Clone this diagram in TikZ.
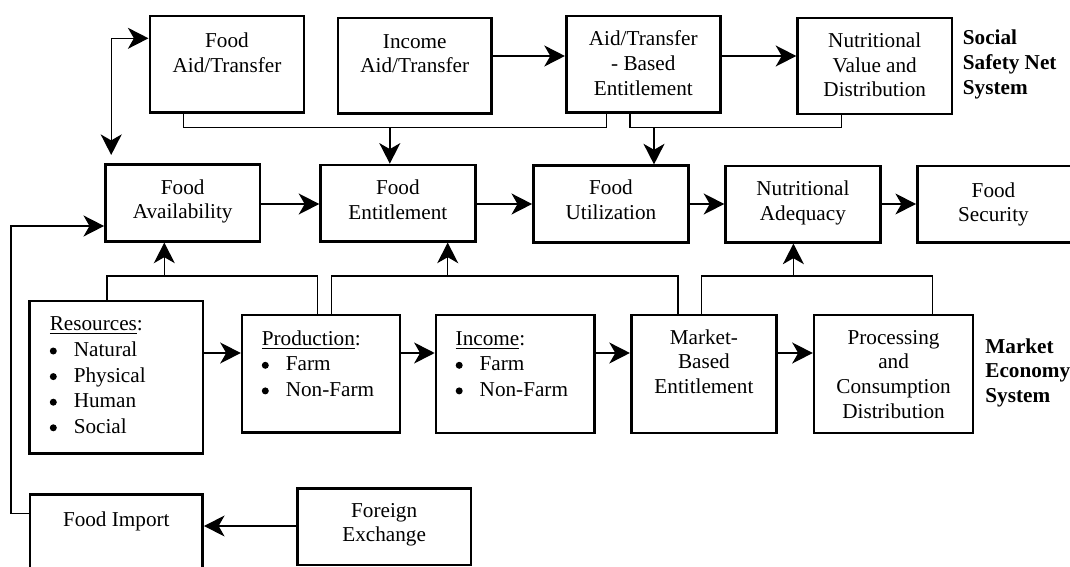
\documentclass[tikz,border=0pt]{standalone}
\usepackage{fontspec}
\setmainfont{Liberation Serif}
\usetikzlibrary{arrows.meta,calc,fit}
\newcommand{\myst}{\rule{0pt}{8pt}}
\newcommand{\itm}[1]{\makebox[12pt][l]{\tikz[baseline=0pt]\fill (1.9pt,2.7pt) circle[radius=1.75pt];}#1}
\begin{document}
\begin{tikzpicture}[x=0.5pt,y=-0.5pt,
  box/.style={draw, line width=1.3pt, inner sep=0pt},
  txt/.style={anchor=north, inner sep=0pt, align=center, font=\fontsize{10.6}{12.4}\selectfont},
  ltxt/.style={anchor=north west, inner sep=0pt, align=left, font=\fontsize{10.6}{12.8}\selectfont},
  lab/.style={anchor=north west, inner sep=0pt, align=left, font=\fontsize{10.6}{12.4}\selectfont\bfseries},
  plain/.style={line width=0.7pt},
  conn/.style={line width=0.7pt, -{Stealth[length=10.3pt,width=10.5pt,inset=3pt]}},
  dbl/.style={line width=0.7pt, {Stealth[length=10.3pt,width=10.5pt,inset=3pt]}-{Stealth[length=10.3pt,width=10.5pt,inset=3pt]}}]
\useasboundingbox (0,0) rectangle (1070,567);
\clip (0,0) rectangle (1070,567);

% ---- top row (social safety net) ----
\node[box, fit={(149.8,16) (304.1,112.7)}] (fat) {};
\node[box, fit={(337.8,18) (491.7,113.7)}] (iat) {};
\node[box, fit={(566.2,16) (720.4,112.7)}] (abe) {};
\node[box, fit={(797.6,18) (951.8,114)}] (nvd) {};
\node[txt] (fat-t) at ($(fat.north)+(0,16.3)$) {\myst Food\\Aid/Transfer};
\node[txt] (iat-t) at ($(iat.north)+(0,15)$) {\myst Income\\Aid/Transfer};
\node[txt] (abe-t) at ($(abe.north)+(0,14.7)$) {\myst Aid/Transfer\\- Based\\Entitlement};
\node[txt] (nvd-t) at ($(nvd.north)+(0,14.3)$) {\myst Nutritional\\Value and\\Distribution};
\node[lab] (ssn) at (962.5,28.2) {\myst Social\\Safety Net\\System};

% ---- middle row ----
\node[box, fit={(105.4,164.7) (260,241.3)}] (fav) {};
\node[box, fit={(320.6,165) (475.2,241.3)}] (fen) {};
\node[box, fit={(533.4,165.7) (688.4,242.3)}] (fut) {};
\node[box, fit={(725.6,166) (880.2,242.3)}] (nad) {};
\node[box, fit={(917.3,166) (1100,242.7)}] (fse) {};
\node[txt] (fav-t) at ($(fav.north)+(0,14.3)$) {\myst Food\\Availability};
\node[txt] (fen-t) at ($(fen.north)+(0,14.3)$) {\myst Food\\Entitlement};
\node[txt] (fut-t) at ($(fut.north)+(0,14)$) {\myst Food\\Utilization};
\node[txt] (nad-t) at ($(nad.north)+(0,14.7)$) {\myst Nutritional\\Adequacy};
\node[txt] (fse-t) at (993.5,180.7) {\myst Food\\Security};

% ---- market row ----
\node[box, fit={(29.5,301) (203,453.5)}] (res) {};
\node[box, fit={(242.1,315) (400.1,432.7)}] (pro) {};
\node[box, fit={(436,315) (594.4,433)}] (inc) {};
\node[box, fit={(631.2,315) (776.6,433)}] (mbe) {};
\node[box, fit={(814.1,315) (973,433)}] (pce) {};
\node[ltxt] (res-t) at ($(res.north west)+(21.2,14.7)$) {\myst\underline{Resources}:\\\itm{Natural}\\\itm{Physical}\\\itm{Human}\\\itm{Social}};
\node[ltxt] (pro-t) at ($(pro.north west)+(20.6,15)$) {\myst\underline{Production}:\\\itm{Farm}\\\itm{Non-Farm}};
\node[ltxt] (inc-t) at ($(inc.north west)+(20.6,15)$) {\myst\underline{Income}:\\\itm{Farm}\\\itm{Non-Farm}};
\node[txt] (mbe-t) at ($(mbe.north)+(0,14)$) {\myst Market-\\Based\\Entitlement};
\node[txt] (pce-t) at ($(pce.north)+(0,14)$) {\myst Processing\\and\\Consumption\\Distribution};
\node[lab] (mes) at (985,336.7) {\myst Market\\Economy\\System};

% ---- bottom row ----
\node[box, fit={(30,494.3) (202.7,620)}] (fim) {};
\node[box, fit={(297.3,488.3) (471,565)}] (ffx) {};
\node[txt] (fim-t) at (116.3,510) {\myst Food Import};
\node[txt] (ffx-t) at ($(ffx.north)+(0,13.7)$) {\myst Foreign\\Exchange};

% ---- connectors: top ----
\draw[conn] (iat.east |- 0,56) -- (abe.west |- 0,56);
\draw[conn] (abe.east |- 0,56) -- (nvd.west |- 0,56);
\coordinate (j1) at (389.8,127.3);
\coordinate (j2) at (654,127.3);
\draw[plain] (fat.south -| 183.5,0) |- (j1) -| (abe.south -| 606.4,0);
\draw[conn] (j1) -- (j1 |- fen.north);
\draw[plain] (abe.south -| 629.9,0) |- (j2) -| (nvd.south -| 841.6,0);
\draw[conn] (j2) -- (j2 |- fut.north);
\coordinate (dtip) at (111.2,155);
\draw[dbl] (dtip) |- (fat.west |- 0,38.3);

% ---- connectors: middle ----
\draw[conn] (fav.east |- 0,204) -- (fen.west |- 0,204);
\draw[conn] (fen.east |- 0,204) -- (fut.west |- 0,204);
\draw[conn] (fut.east |- 0,204) -- (nad.west |- 0,204);
\draw[conn] (nad.east |- 0,204) -- (fse.west |- 0,204);

% ---- connectors: market row ----
\coordinate (k1) at (164.3,276);
\coordinate (k2) at (447.7,276);
\coordinate (k3) at (793.4,276);
\draw[plain] (res.north -| 106.8,0) |- (k1) -| (pro.north -| 317.5,0);
\draw[conn] (k1) -- (k1 |- fav.south);
\draw[plain] (pro.north -| 331.6,0) |- (k2) -| (mbe.north -| 678.1,0);
\draw[conn] (k2) -- (k2 |- fen.south);
\draw[plain] (mbe.north -| 701.5,0) |- (k3) -| (pce.north -| 932.2,0);
\draw[conn] (k3) -- (k3 |- nad.south);
\draw[conn] (res.east |- 0,353) -- (pro.west |- 0,353);
\draw[conn] (pro.east |- 0,353) -- (inc.west |- 0,353);
\draw[conn] (inc.east |- 0,353) -- (mbe.west |- 0,353);
\draw[conn] (mbe.east |- 0,353) -- (pce.west |- 0,353);

% ---- connectors: bottom ----
\draw[conn] (ffx.west |- 0,526) -- (fim.east |- 0,526);
\coordinate (fbc) at (11,226);
\draw[conn] (fim.west |- 0,513.5) -| (fbc) -- (fbc -| fav.west);
\end{tikzpicture}
\end{document}
